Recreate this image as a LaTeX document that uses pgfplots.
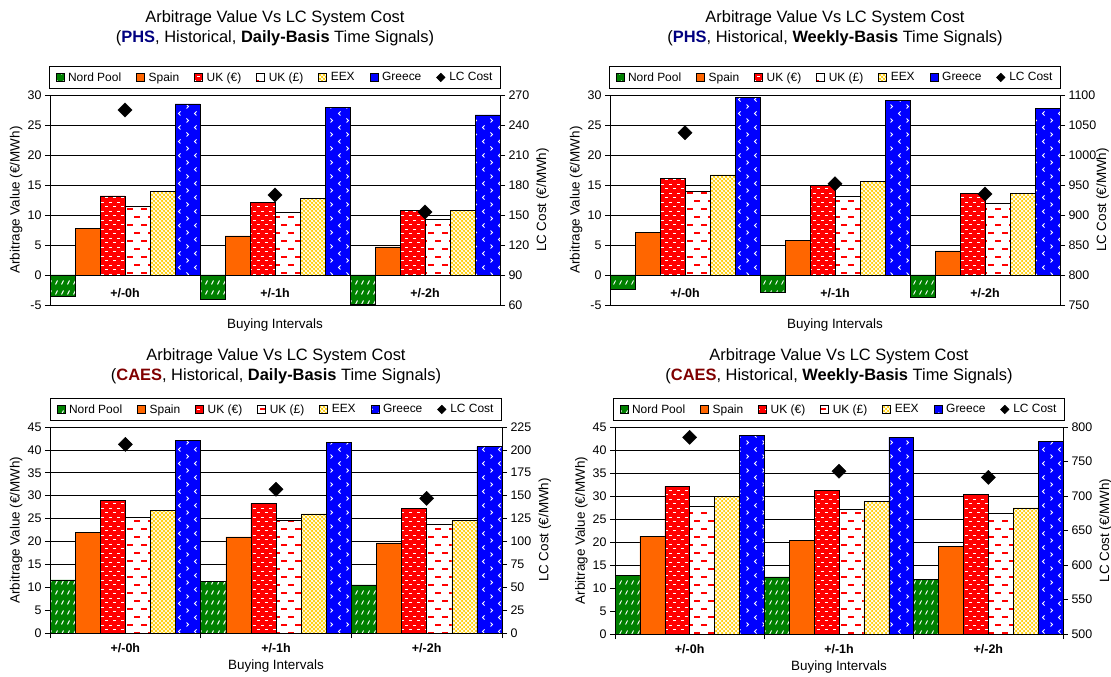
\documentclass[border=0pt]{standalone}
\usepackage{fontspec}
\setmainfont{Liberation Sans}
\usepackage{pgfplots}
\pgfplotsset{compat=1.18}
\usepackage{pgfplotstable}
\usetikzlibrary{patterns}

\definecolor{npgreen}{HTML}{008000}
\definecolor{sporange}{HTML}{FF6600}
\definecolor{ukred}{HTML}{FF0000}
\definecolor{eexgold}{HTML}{FFCC00}
\definecolor{grblue}{HTML}{0000FF}
\definecolor{phsblue}{HTML}{000080}
\definecolor{caesred}{HTML}{800000}

% patterns
\pgfdeclarepatternformonly{npdash}{\pgfqpoint{-1bp}{-1bp}}{\pgfqpoint{7bp}{11bp}}{\pgfqpoint{6bp}{10bp}}{%
  \pgfsetlinewidth{0.9bp}%
  \pgfpathmoveto{\pgfqpoint{1.5bp}{2.5bp}}\pgfpathlineto{\pgfqpoint{3.5bp}{6.5bp}}\pgfusepath{stroke}}
\pgfdeclarepatternformonly{ukedash}{\pgfqpoint{-1bp}{-1bp}}{\pgfqpoint{9bp}{10bp}}{\pgfqpoint{8bp}{9bp}}{%
  \pgfsetlinewidth{1.4bp}%
  \pgfpathmoveto{\pgfqpoint{1bp}{2.25bp}}\pgfpathlineto{\pgfqpoint{4bp}{2.25bp}}%
  \pgfpathmoveto{\pgfqpoint{5bp}{6.75bp}}\pgfpathlineto{\pgfqpoint{8bp}{6.75bp}}\pgfusepath{stroke}}
\pgfdeclarepatternformonly{ukpdash}{\pgfqpoint{-1bp}{-1bp}}{\pgfqpoint{15bp}{17bp}}{\pgfqpoint{14bp}{16bp}}{%
  \pgfsetlinewidth{1.7bp}%
  \pgfpathmoveto{\pgfqpoint{1bp}{4bp}}\pgfpathlineto{\pgfqpoint{7bp}{4bp}}%
  \pgfpathmoveto{\pgfqpoint{8bp}{12bp}}\pgfpathlineto{\pgfqpoint{14bp}{12bp}}\pgfusepath{stroke}}
\pgfdeclarepatternformonly{eexlat}{\pgfqpoint{-1bp}{-1bp}}{\pgfqpoint{5bp}{5bp}}{\pgfqpoint{4bp}{4bp}}{%
  \pgfsetlinewidth{0.7bp}%
  \pgfpathmoveto{\pgfqpoint{0bp}{0bp}}\pgfpathlineto{\pgfqpoint{4bp}{4bp}}%
  \pgfpathmoveto{\pgfqpoint{0bp}{4bp}}\pgfpathlineto{\pgfqpoint{4bp}{0bp}}\pgfusepath{stroke}}
\pgfdeclarepatternformonly{grchev}{\pgfqpoint{-1bp}{-1bp}}{\pgfqpoint{17bp}{15bp}}{\pgfqpoint{16bp}{14bp}}{%
  \pgfsetlinewidth{0.9bp}%
  \pgfpathmoveto{\pgfqpoint{4.5bp}{1.5bp}}\pgfpathlineto{\pgfqpoint{2.5bp}{3.5bp}}\pgfpathlineto{\pgfqpoint{4.5bp}{5.5bp}}%
  \pgfpathmoveto{\pgfqpoint{10.5bp}{8.5bp}}\pgfpathlineto{\pgfqpoint{12.5bp}{10.5bp}}\pgfpathlineto{\pgfqpoint{10.5bp}{12.5bp}}%
  \pgfusepath{stroke}}

\pgfplotstableread{
g np sp uke ukp eex gr lc
0 -3.5 7.8 13.2 11.4 13.9 28.5 255
1 -4.0 6.5 12.1 10.4 12.8 27.9 170
2 -4.9 4.7 10.8 9.3 10.8 26.7 153
}\phsdaily
\pgfplotstableread{
g np sp uke ukp eex gr lc
0 -2.4 7.1 16.1 13.9 16.7 29.6 1037
1 -2.8 5.8 14.9 13.1 15.6 29.1 952
2 -3.7 4.0 13.6 11.9 13.6 27.8 935
}\phsweekly
\pgfplotstableread{
g np sp uke ukp eex gr lc
0 11.6 21.9 29.0 25.2 26.8 42.0 206
1 11.2 21.0 28.3 24.6 26.0 41.6 157
2 10.5 19.7 27.3 23.7 24.6 40.7 147
}\caesdaily
\pgfplotstableread{
g np sp uke ukp eex gr lc
0 12.7 21.3 32.1 27.8 29.9 43.2 785
1 12.4 20.4 31.3 27.1 28.8 42.8 736
2 11.8 19.0 30.3 26.3 27.4 41.9 727
}\caesweekly

\pgfplotsset{
  common/.style={scale only axis, xmin=-0.5, xmax=2.5, enlargelimits=false,
    tick align=outside, major tick length=5bp,
    every tick/.style={black, line width=0.6bp},
    ticklabel style={font=\fontsize{12.5}{14}\selectfont},
    /pgf/number format/assume math mode=true,
    /pgf/number format/1000 sep={},
    axis line style={black, line width=0.8bp},
    label style={font=\fontsize{13.5}{16}\selectfont}},
  prim/.style={common, axis y line*=left, axis x line*=middle,
    ybar=0pt, bar width=0.1666667,
    xtick={0,1,2}, xticklabels={+/-0h,+/-1h,+/-2h},
    xticklabel style={font=\bfseries\fontsize{12.5}{14}\selectfont},
    major x tick style={draw=none},
    ymajorgrids, major grid style={black, line width=0.6bp},
    ylabel={Arbitrage Value (€/MWh)}, xlabel={Buying Intervals},
    ylabel style={at={(axis description cs:-0.075,0.5)}, anchor=center},
    title style={at={(axis description cs:0.5,1)}, anchor=south, align=center, inner sep=0pt,
      font=\fontsize{16.5}{20}\selectfont},
    legend columns=7,
    legend style={at={(0.5,1)}, anchor=south, draw=black, line width=0.9bp,
      font=\fontsize{12}{14}\selectfont, inner xsep=6bp, inner ysep=4bp,
      /tikz/every even column/.append style={column sep=13bp},
      /tikz/every odd column/.append style={column sep=2bp}},
    legend image code/.code={\draw[##1, line width=0.5bp] (0bp,-4bp) rectangle (8bp,4bp);}},
  sec/.style={common, axis y line*=right, axis x line=none,
    ylabel={LC Cost (€/MWh)},
    ylabel style={at={(axis description cs:1.095,0.5)}, anchor=center}},
  npbar/.style={fill=npgreen, draw=black, line width=0.5bp, postaction={pattern=npdash, pattern color=white}},
  spbar/.style={fill=sporange, draw=black, line width=0.5bp},
  ukebar/.style={fill=ukred, draw=black, line width=0.5bp, postaction={pattern=ukedash, pattern color=white}},
  ukpbar/.style={fill=white, draw=black, line width=0.5bp, postaction={pattern=ukpdash, pattern color=ukred}},
  eexbar/.style={fill=eexgold, draw=black, line width=0.5bp, postaction={pattern=eexlat, pattern color=white}},
  grbar/.style={fill=grblue, draw=black, line width=0.5bp, postaction={pattern=grchev, pattern color=white}},
  lcmark/.style={only marks, mark=square*, mark size=5bp, mark options={rotate=45, fill=black, draw=black}},
}

\newcommand{\bars}[1]{%
  \addplot[npbar] table[x=g,y=np]{#1};
  \addplot[spbar] table[x=g,y=sp]{#1};
  \addplot[ukebar] table[x=g,y=uke]{#1};
  \addplot[ukpbar] table[x=g,y=ukp]{#1};
  \addplot[eexbar] table[x=g,y=eex]{#1};
  \addplot[grbar] table[x=g,y=gr]{#1};
  \addlegendimage{legend image code/.code={\fill[black] (4bp,-4bp) -- (8bp,0bp) -- (4bp,4bp) -- (0bp,0bp) -- cycle;}}
  \legend{Nord Pool,Spain,UK (€),UK (£),EEX,Greece,LC Cost}
}

\begin{document}
\begin{tikzpicture}
\useasboundingbox (0,0) rectangle (1111bp,677bp);

% ---------- Panel 1 ----------
\begin{axis}[prim, at={(50bp,372bp)}, anchor=south west, width=450bp, height=210bp,
  ymin=-5, ymax=30, ytick distance=5,
  xticklabel style={anchor=center, yshift=-13bp},
  xlabel style={at={(axis description cs:0.5,0)}, anchor=center, yshift=-20bp},
  legend style={yshift=6bp},
  title style={yshift=43bp},
  title={Arbitrage Value Vs LC System Cost\\(\textcolor{phsblue}{\textbf{PHS}}, Historical, \textbf{Daily-Basis} Time Signals)}]
\bars{\phsdaily}
\end{axis}
\begin{axis}[sec, at={(50bp,372bp)}, anchor=south west, width=450bp, height=210bp,
  ymin=60, ymax=270, ytick distance=30]
\addplot[lcmark] table[x=g,y=lc]{\phsdaily};
\end{axis}

% ---------- Panel 2 ----------
\begin{axis}[prim, at={(610bp,372bp)}, anchor=south west, width=450bp, height=210bp,
  ymin=-5, ymax=30, ytick distance=5,
  xticklabel style={anchor=center, yshift=-13bp},
  xlabel style={at={(axis description cs:0.5,0)}, anchor=center, yshift=-20bp},
  legend style={yshift=6bp},
  title style={yshift=43bp},
  title={Arbitrage Value Vs LC System Cost\\(\textcolor{phsblue}{\textbf{PHS}}, Historical, \textbf{Weekly-Basis} Time Signals)}]
\bars{\phsweekly}
\end{axis}
\begin{axis}[sec, at={(610bp,372bp)}, anchor=south west, width=450bp, height=210bp,
  ymin=750, ymax=1100, ytick distance=50]
\addplot[lcmark] table[x=g,y=lc]{\phsweekly};
\end{axis}

% ---------- Panel 3 ----------
\begin{axis}[prim, at={(50bp,44bp)}, anchor=south west, width=452bp, height=206bp,
  ymin=0, ymax=45, ytick distance=5,
  minor xtick={-0.5,0.5,1.5,2.5}, minor tick length=5bp,
  xticklabel style={anchor=center, yshift=-10bp},
  xlabel style={at={(axis description cs:0.5,0)}, anchor=center, yshift=-33bp},
  legend style={yshift=6bp},
  title style={yshift=37bp},
  title={Arbitrage Value Vs LC System Cost\\(\textcolor{caesred}{\textbf{CAES}}, Historical, \textbf{Daily-Basis} Time Signals)}]
\bars{\caesdaily}
\end{axis}
\begin{axis}[sec, at={(50bp,44bp)}, anchor=south west, width=452bp, height=206bp,
  ymin=0, ymax=225, ytick distance=25]
\addplot[lcmark] table[x=g,y=lc]{\caesdaily};
\end{axis}

% ---------- Panel 4 ----------
\begin{axis}[prim, at={(615bp,43bp)}, anchor=south west, width=448bp, height=207bp,
  ymin=0, ymax=45, ytick distance=5,
  minor xtick={-0.5,0.5,1.5,2.5}, minor tick length=5bp,
  xticklabel style={anchor=center, yshift=-10bp},
  xlabel style={at={(axis description cs:0.5,0)}, anchor=center, yshift=-33bp},
  legend style={yshift=6bp},
  title style={yshift=37bp},
  title={Arbitrage Value Vs LC System Cost\\(\textcolor{caesred}{\textbf{CAES}}, Historical, \textbf{Weekly-Basis} Time Signals)}]
\bars{\caesweekly}
\end{axis}
\begin{axis}[sec, at={(615bp,43bp)}, anchor=south west, width=448bp, height=207bp,
  ymin=500, ymax=800, ytick distance=50]
\addplot[lcmark] table[x=g,y=lc]{\caesweekly};
\end{axis}
\end{tikzpicture}
\end{document}
